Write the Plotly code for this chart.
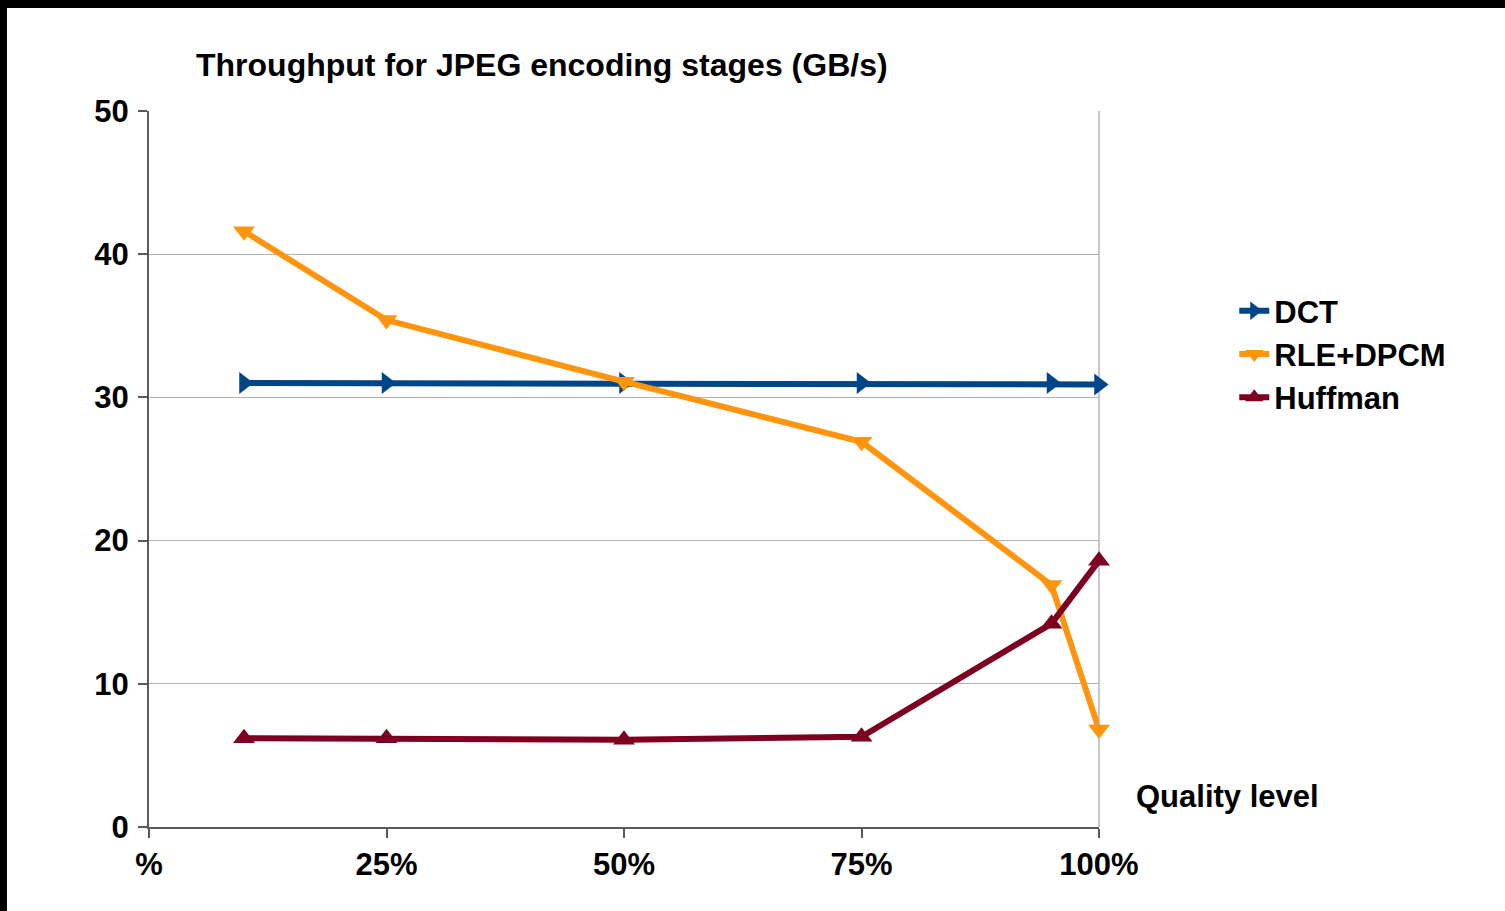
import plotly.graph_objects as go

# Quality level (%) at which each stage was measured
quality = [10, 25, 50, 75, 95, 100]

# Throughput in GB/s per encoding stage
dct = [31.0, 31.0, 31.0, 31.0, 31.0, 30.9]
rle_dpcm = [41.6, 35.4, 31.1, 26.9, 16.9, 6.8]
huffman = [6.2, 6.2, 6.1, 6.3, 14.2, 18.6]

x_tick_vals = [0, 25, 50, 75, 100]
x_tick_text = ["%", "25%", "50%", "75%", "100%"]
y_tick_vals = [0, 10, 20, 30, 40, 50]

FONT = "Liberation Sans, Arial, sans-serif"
AXIS_COLOR = "#5a5a5a"
GRID_COLOR = "#b3b3b3"

series = [
    ("DCT", dct, "#004586", "triangle-right"),
    ("RLE+DPCM", rle_dpcm, "#ff950e", "triangle-down"),
    ("Huffman", huffman, "#7e0021", "triangle-up"),
]

fig = go.Figure()
for i, (name, vals, color, symbol) in enumerate(series):
    fig.add_trace(go.Scatter(
        x=quality, y=vals, name=name, mode="lines+markers",
        cliponaxis=False,
        line=dict(color=color, width=6),
        marker=dict(symbol=symbol, size=19, color=color,
                    line=dict(width=0)),
    ))

fig.update_layout(
    width=1505, height=911,
    margin=dict(l=149, r=406, t=111, b=84),
    paper_bgcolor="white", plot_bgcolor="white",
    font=dict(family=FONT, size=31, color="black", weight="bold"),
    showlegend=True,
    legend=dict(x=1.1424, y=0.6606, xanchor="left", yanchor="middle",
                font=dict(family=FONT, size=31, color="black", weight="bold"),
                itemwidth=30, bgcolor="rgba(0,0,0,0)"),
    xaxis=dict(range=[0, 100], tickvals=x_tick_vals, ticktext=x_tick_text,
               showgrid=False, zeroline=False,
               showline=True, linecolor=AXIS_COLOR, linewidth=2,
               ticks="outside", ticklen=9, tickwidth=2, tickcolor=AXIS_COLOR,
               ticklabelstandoff=0,
               tickfont=dict(family=FONT, size=31, color="black", weight="bold")),
    yaxis=dict(range=[0, 50], tickvals=y_tick_vals,
               showgrid=True, gridcolor=GRID_COLOR, gridwidth=1,
               zeroline=False,
               showline=True, linecolor=AXIS_COLOR, linewidth=2,
               ticks="outside", ticklen=9, tickwidth=2, tickcolor=AXIS_COLOR,
               ticklabelstandoff=3,
               tickfont=dict(family=FONT, size=31, color="black", weight="bold")),
    shapes=[
        # right edge of the plot area
        dict(type="line", xref="paper", yref="paper", x0=1, x1=1, y0=0, y1=1,
             line=dict(color="#c8c8c8", width=2), layer="below"),
        # dark frame along the top and left edges of the page
        dict(type="rect", xref="paper", yref="paper",
             x0=-0.2, x1=1.5, y0=1.1439, y1=1.25,
             fillcolor="black", line=dict(width=0)),
        dict(type="rect", xref="paper", yref="paper",
             x0=-0.2, x1=-0.1495, y0=-0.2, y1=1.25,
             fillcolor="black", line=dict(width=0)),
    ],
    annotations=[
        dict(text="Throughput for JPEG encoding stages (GB/s)",
             xref="paper", yref="paper", x=0.4137, y=1.064,
             xanchor="center", yanchor="middle", showarrow=False,
             font=dict(family=FONT, size=32, color="black", weight="bold")),
        dict(text="Quality level", xref="paper", yref="paper",
             x=1.0368, y=0.0419, xanchor="left", yanchor="middle",
             showarrow=False,
             font=dict(family=FONT, size=31, color="black", weight="bold")),
    ],
)

fig.write_html("out.html")
